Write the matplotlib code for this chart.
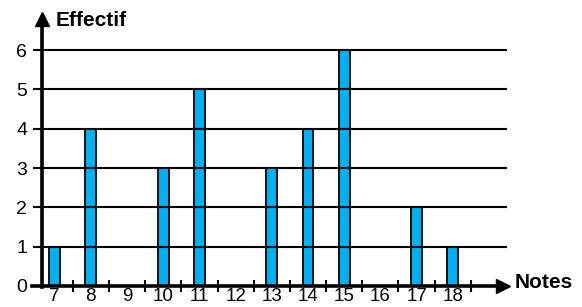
import numpy as np
import matplotlib.pyplot as plt

plt.rcParams['font.family'] = ['Liberation Sans', 'DejaVu Sans']

notes = [7, 8, 9, 10, 11, 12, 13, 14, 15, 16, 17, 18]
effectifs = [1, 4, 0, 3, 5, 0, 3, 4, 6, 0, 2, 1]
y_ticks = [0, 1, 2, 3, 4, 5, 6]

fig = plt.figure(figsize=(5.82, 3.07), dpi=100)
ax = fig.add_axes([0, 0, 1, 1])
ax.set_xlim(5.49, 21.57)
ax.set_ylim(-0.534, 7.272)

x0 = 6.64      # position de l'axe vertical
x_end = 19.5   # fin des lignes horizontales

# lignes horizontales (par-dessus les barres)
ax.hlines(y_ticks[1:], x0, x_end, color='black', lw=1.5, zorder=3)

ax.bar(notes, effectifs, width=0.3, color='#00b0f0',
       edgecolor='black', linewidth=1.3, zorder=2)

for side in ['top', 'right']:
    ax.spines[side].set_visible(False)
ax.spines['left'].set_position(('data', x0))
ax.spines['bottom'].set_position(('data', 0))
ax.spines['left'].set_bounds(-0.02, 6.8)
ax.spines['bottom'].set_bounds(6.38, 19.4)
ax.spines['left'].set_linewidth(2.6)
ax.spines['bottom'].set_linewidth(2.6)
ax.spines['left'].set_zorder(4)
ax.spines['bottom'].set_zorder(4)

# fleches
ax.plot([x0], [6.79], marker='^', ms=10, color='black', clip_on=False, zorder=5)
ax.plot([19.39], [0], marker='>', ms=10, color='black', clip_on=False, zorder=5)

ax.set_yticks(y_ticks)
ax.tick_params(axis='y', direction='out', length=6.5, width=1.5,
               labelsize=14, pad=4)

ax.set_xticks(notes)
ax.set_xticklabels([str(n) for n in notes])
ax.tick_params(axis='x', which='major', length=0, labelsize=13.5, pad=1.5)
ax.set_xticks([n + 0.5 for n in notes], minor=True)
ax.tick_params(axis='x', which='minor', direction='inout', length=9, width=1.5)

ax.text(7.04, 6.76, 'Effectif', fontsize=15, fontweight='bold',
        ha='left', va='center')
ax.text(19.72, 0.1, 'Notes', fontsize=15, fontweight='bold',
        ha='left', va='center')

fig.savefig('out.png', dpi=100)
